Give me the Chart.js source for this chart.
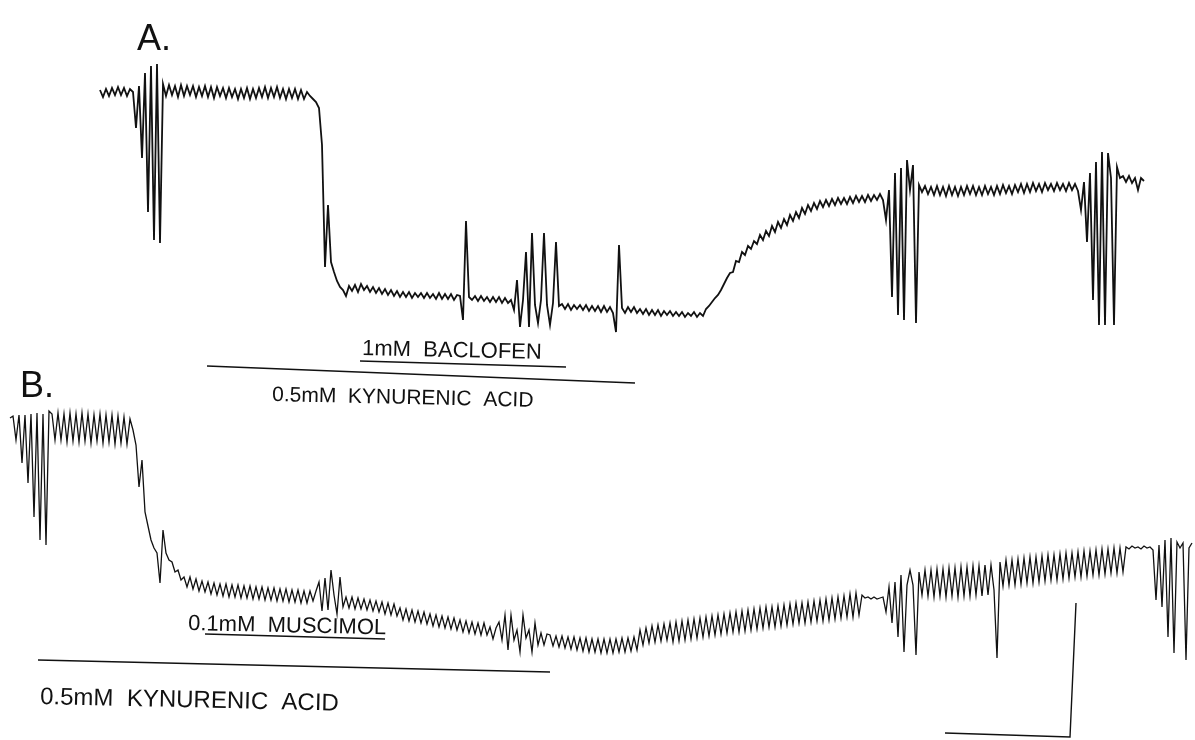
<!DOCTYPE html>
<html>
<head>
<meta charset="utf-8">
<title>Kynurenic acid traces</title>
<script src="https://cdn.jsdelivr.net/npm/chart.js@4.4.1/dist/chart.umd.min.js"></script>
<style>
  html, body { margin: 0; padding: 0; background: #fff; }
  #wrap { width: 1195px; height: 740px; }
</style>
</head>
<body>
<div id="wrap"><canvas id="trace" width="1195" height="740"></canvas></div>
<script>
/* ======================================================
    RECORDED TRACES (one sample every 3 time units)
====================================================== */
const sampleStep = 3;

const traceAStart = 100;
const traceAValues = [
    90,97,89,96,88,95,87,95,88,96,
    89,92,128,86,158,73,212,66,240,64,
    243,84,96,85,95,86,97,85,96,86,
    95,86,97,87,96,86,97,87,98,87,
    96,88,98,88,97,89,99,89,98,88,
    99,89,98,88,97,87,98,88,97,87,
    98,89,99,89,98,89,99,90,99,92,
    96,99,102,108,145,267,205,262,272,281,
    287,290,296,286,291,285,292,284,290,286,
    292,287,293,288,294,289,295,290,296,291,
    297,292,297,292,298,293,297,293,298,293,
    298,294,299,293,299,294,299,294,300,295,
    296,320,221,297,300,296,301,296,301,297,
    302,297,302,297,303,298,303,300,310,280,
    327,300,252,327,233,305,323,300,233,305,
    325,303,242,306,304,309,304,310,305,309,
    305,310,305,311,306,311,306,312,306,312,
    307,313,332,245,308,313,307,312,307,313,
    309,314,309,315,310,315,310,316,311,315,
    311,316,312,316,312,317,313,316,312,317,
    313,316,309,306,302,298,295,290,284,278,
    273,272,261,262,252,255,246,249,241,244,
    235,240,231,236,226,232,222,228,219,225,
    215,221,212,218,208,214,205,211,203,209,
    201,207,200,206,199,205,198,204,198,204,
    197,203,196,202,196,202,195,201,195,200,
    194,200,220,190,297,173,315,168,320,160,
    190,165,323,185,192,186,194,187,195,186,
    195,187,196,186,195,187,196,187,195,186,
    194,186,195,187,195,186,194,187,195,186,
    194,185,193,186,194,185,192,184,193,184,
    192,183,191,184,192,183,190,184,191,183,
    190,184,191,183,190,184,191,210,182,242,
    173,300,162,325,152,325,153,178,325,167,
    178,176,182,176,183,178,190,178,181
];

const traceBStart = 10;
const traceBValues = [
    418,416,440,415,463,415,483,414,517,413,
    540,414,545,411,414,440,413,440,414,442,
    413,441,414,442,413,441,414,443,415,441,
    414,443,415,442,415,444,416,443,417,444,
    419,430,445,487,460,512,526,540,548,553,
    583,530,553,560,562,572,570,580,577,587,
    577,589,579,591,581,592,582,594,583,595,
    584,596,584,597,585,597,585,598,586,598,
    586,599,587,599,587,600,588,600,588,601,
    589,601,589,602,590,602,590,603,591,603,
    591,601,591,582,611,578,610,570,595,614,
    577,607,597,608,597,609,598,609,599,610,
    600,611,601,612,602,614,603,615,604,616,
    608,620,609,621,610,622,611,623,612,624,
    614,626,615,627,616,628,617,629,618,630,
    620,632,621,633,622,634,623,635,623,635,
    627,639,628,622,640,615,650,615,640,630,
    652,615,638,630,652,623,645,633,645,634,
    635,646,636,647,636,648,637,649,637,650,
    638,651,638,652,639,652,639,653,639,653,
    639,653,639,652,638,652,638,651,637,650,
    630,645,628,643,626,642,625,641,624,640,
    623,642,622,641,621,640,620,639,619,638,
    618,637,617,636,616,635,615,634,614,633,
    613,632,612,632,611,631,610,630,609,629,
    608,628,607,627,607,627,606,626,605,625,
    604,624,603,623,603,623,602,622,601,621,
    600,621,599,620,598,619,597,618,596,617,
    594,617,593,615,595,598,597,599,597,599,
    598,597,612,587,623,582,637,575,652,585,
    570,585,655,572,595,570,596,570,597,569,
    596,569,597,568,596,568,597,567,596,567,
    596,566,595,566,596,565,595,565,590,658,
    562,586,560,585,560,585,559,584,558,583,
    557,583,557,582,556,581,555,580,555,580,
    554,579,553,578,553,577,552,577,551,576,
    551,575,550,575,549,574,549,573,548,573,
    548,572,547,549,546,548,547,549,546,548,
    547,550,600,545,607,540,637,538,653,542,
    548,543,660,548,543
];

/* drug application periods */
const drugNames = ['1mM  BACLOFEN', '0.5mM  KYNURENIC  ACID', '0.1mM  MUSCIMOL', '0.5mM  KYNURENIC  ACID'];
const drugOn = [360, 207, 205, 38];
const drugOff = [566, 635, 385, 550];

/* calibration bar */
const calX = [945, 1070, 1076];
const calY = [733, 737, 603];

/* ======================================================
    LAYOUT (where the bars / labels sit vertically)
====================================================== */
const barRows = [[361, 367], [366, 383], [634, 639], [660, 672]];
const labelPos = [[362, 355], [272, 401], [188, 630], [40, 704]];
const labelSize = [22, 21, 22, 24];
const panelLetters = [['A.', 137, 50], ['B.', 20, 397]];
const ink = '#111';

function toPoints(start, values) {
    return values.map((v, i) => ({ x: start + i * sampleStep, y: v }));
}

const datasets = [
    { data: toPoints(traceAStart, traceAValues), borderWidth: 1.8, borderColor: ink },
    { data: toPoints(traceBStart, traceBValues), borderWidth: 1.3, borderColor: ink }
];
drugOn.forEach((t, i) => {
    datasets.push({
        data: [{ x: t, y: barRows[i][0] }, { x: drugOff[i], y: barRows[i][1] }],
        borderWidth: 1.7,
        borderColor: ink
    });
});
datasets.push({ data: calX.map((x, i) => ({ x: x, y: calY[i] })), borderWidth: 1.4, borderColor: ink });

const labelsPlugin = {
    id: 'labels',
    afterDatasetsDraw(chart) {
        const { ctx, scales: { x, y } } = chart;
        ctx.save();
        ctx.fillStyle = ink;
        ctx.textBaseline = 'alphabetic';

        drugNames.forEach((name, i) => {
            ctx.save();
            ctx.font = labelSize[i] + 'px "Liberation Sans", Arial, sans-serif';
            ctx.translate(x.getPixelForValue(labelPos[i][0]), y.getPixelForValue(labelPos[i][1]));
            ctx.rotate(0.022);
            ctx.fillText(name, 0, 0);
            ctx.restore();
        });

        ctx.font = '36px "Liberation Sans", Arial, sans-serif';
        panelLetters.forEach(([txt, px, py]) => {
            ctx.fillText(txt, x.getPixelForValue(px), y.getPixelForValue(py));
        });
        ctx.restore();
    }
};

new Chart(document.getElementById('trace'), {
    type: 'line',
    data: { datasets: datasets },
    options: {
        responsive: false,
        animation: false,
        devicePixelRatio: 1,
        layout: { padding: 0 },
        datasets: { line: { pointRadius: 0, tension: 0, fill: false } },
        plugins: { legend: { display: false }, tooltip: { enabled: false } },
        scales: {
            x: { type: 'linear', min: 0, max: 1195, display: false },
            y: { type: 'linear', min: 0, max: 740, reverse: true, display: false }
        }
    },
    plugins: [labelsPlugin]
});
</script>
</body>
</html>
